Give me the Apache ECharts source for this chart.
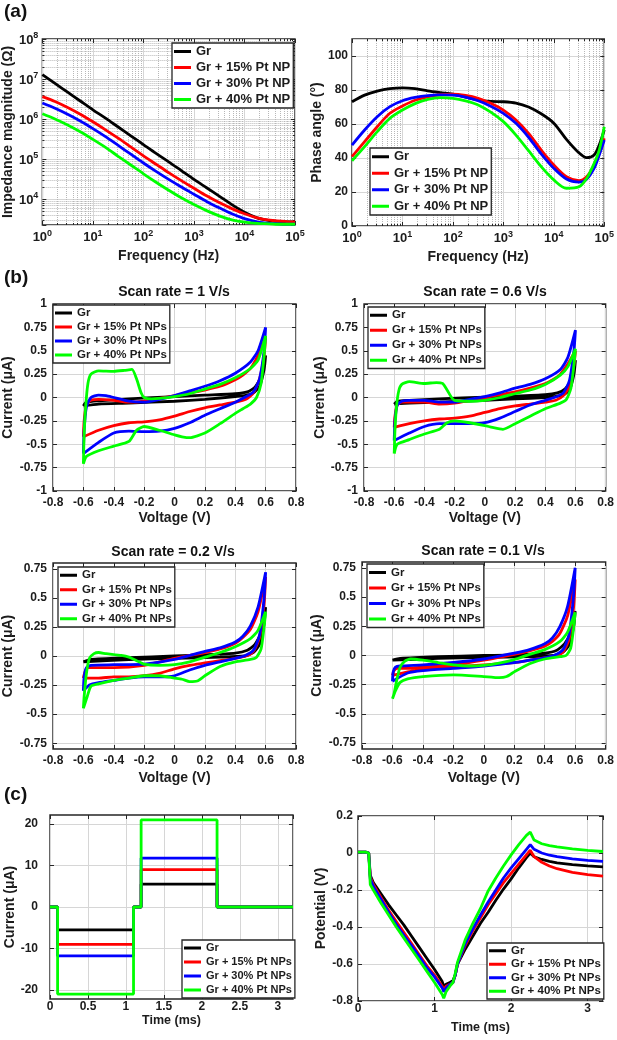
<!DOCTYPE html>
<html><head><meta charset="utf-8">
<script src="https://cdn.jsdelivr.net/npm/echarts@6/dist/echarts.min.js"></script>
<style>html,body{margin:0;padding:0;background:#fff}#c{width:617px;height:1040px}</style>
</head><body><div id="c"></div><script>
// ---------------- DATA ----------------
const NAMES_A = ['Gr', 'Gr + 15% Pt NP', 'Gr + 30% Pt NP', 'Gr + 40% Pt NP'];
const NAMES_B = ['Gr', 'Gr + 15% Pt NPs', 'Gr + 30% Pt NPs', 'Gr + 40% Pt NPs'];
const COLORS = ['#000000', '#ff0000', '#0000ff', '#00ff00'];

// (a) impedance spectra
const FREQ = [1, 1.778, 3.162, 5.623, 10, 17.78, 31.62, 56.23, 100, 177.8, 316.2, 562.3, 1000, 1778, 3162, 5623, 10000, 17783, 31623, 44668, 63096, 79433, 100000];
const Z_GR = [1.29e7, 7.76e6, 4.68e6, 2.82e6, 1.70e6, 1.05e6, 6.31e5, 3.80e5, 2.29e5, 1.38e5, 8.51e4, 5.13e4, 3.09e4, 1.91e4, 1.18e4, 7240, 4680, 3390, 2880, 2750, 2690, 2690, 2690];
const Z_15 = [3.63e6, 2.75e6, 1.95e6, 1.32e6, 8.51e5, 5.37e5, 3.31e5, 2.00e5, 1.20e5, 7.41e4, 4.57e4, 2.88e4, 1.86e4, 1.20e4, 8130, 5750, 4270, 3390, 2950, 2820, 2750, 2690, 2690];
const Z_30 = [2.51e6, 1.86e6, 1.32e6, 8.91e5, 5.75e5, 3.63e5, 2.19e5, 1.32e5, 7.94e4, 4.90e4, 3.09e4, 2.00e4, 1.32e4, 8710, 6030, 4270, 3240, 2690, 2450, 2400, 2340, 2340, 2340];
const Z_40 = [1.35e6, 1.00e6, 7.08e5, 4.79e5, 3.09e5, 1.95e5, 1.17e5, 7.08e4, 4.27e4, 2.63e4, 1.66e4, 1.07e4, 7240, 5130, 3800, 3020, 2630, 2450, 2400, 2340, 2340, 2340, 2340];
const P_GR = [73.1, 77, 79.4, 80.8, 81.3, 80.8, 79.5, 78.5, 77.6, 75.8, 74.1, 73.3, 73.1, 72.3, 70, 66, 60.5, 51, 43, 40.2, 41.8, 47.6, 56.5];
const P_15 = [40.8, 49.6, 58.4, 66.3, 70.6, 74, 76, 77.2, 77.6, 76.8, 75.1, 72.2, 68.2, 62.4, 54.5, 44.7, 35.9, 29, 26.7, 29, 35.5, 42.5, 51.6];
const P_30 = [47.6, 56.5, 64.3, 70.2, 73.7, 75.6, 76.7, 77.1, 77, 75.8, 73.7, 70.5, 66.3, 60.4, 52.2, 42.4, 33.9, 27.6, 25.8, 27.5, 34, 41.8, 50.6];
const P_40 = [38.4, 46.7, 55.5, 63.3, 68.2, 72, 74.5, 75.5, 75.1, 73.6, 71.2, 67, 61.4, 53.5, 44.3, 34.9, 27.1, 22.2, 23.1, 28, 36.9, 44.7, 58.4];

// (b) cyclic voltammograms [V, uA]
const CV_1_GR = [[-0.6,-0.09],[-0.58,-0.05],[-0.5,-0.035],[-0.3,-0.015],[0,0.01],[0.2,0.025],[0.4,0.04],[0.48,0.06],[0.53,0.11],[0.57,0.22],[0.6,0.45],[0.59,0.3],[0.56,0.12],[0.52,0.05],[0.46,0.02],[0.4,0.01],[0.2,-0.02],[0,-0.04],[-0.3,-0.06],[-0.5,-0.07],[-0.6,-0.09]];
const CV_1_15 = [[-0.6,-0.42],[-0.595,-0.25],[-0.58,-0.08],[-0.55,-0.03],[-0.5,-0.02],[-0.4,-0.03],[-0.3,-0.05],[-0.2,-0.04],[-0.1,-0.01],[0,0.02],[0.1,0.05],[0.2,0.08],[0.3,0.12],[0.4,0.19],[0.45,0.24],[0.5,0.31],[0.55,0.45],[0.6,0.65],[0.59,0.45],[0.56,0.2],[0.52,0.05],[0.47,-0.02],[0.4,-0.05],[0.3,-0.08],[0.2,-0.11],[0.1,-0.15],[0,-0.2],[-0.1,-0.24],[-0.2,-0.26],[-0.3,-0.27],[-0.4,-0.3],[-0.5,-0.35],[-0.6,-0.42]];
const CV_1_30 = [[-0.6,-0.6],[-0.595,-0.35],[-0.58,-0.1],[-0.55,0.0],[-0.5,0.025],[-0.45,0.02],[-0.4,0.0],[-0.3,-0.04],[-0.2,-0.05],[-0.1,-0.02],[0,0.02],[0.1,0.07],[0.2,0.12],[0.3,0.18],[0.4,0.26],[0.5,0.38],[0.55,0.5],[0.6,0.75],[0.59,0.5],[0.56,0.2],[0.52,0.06],[0.46,0.0],[0.4,-0.05],[0.3,-0.12],[0.2,-0.19],[0.1,-0.27],[0,-0.33],[-0.1,-0.36],[-0.2,-0.365],[-0.3,-0.36],[-0.4,-0.38],[-0.5,-0.48],[-0.6,-0.6]];
const CV_1_40 = [[-0.6,-0.71],[-0.595,-0.4],[-0.585,-0.1],[-0.57,0.15],[-0.55,0.25],[-0.5,0.285],[-0.4,0.28],[-0.33,0.29],[-0.28,0.3],[-0.25,0.2],[-0.22,0.05],[-0.2,0.0],[-0.15,-0.015],[-0.1,-0.01],[0,0.01],[0.1,0.04],[0.2,0.09],[0.3,0.14],[0.4,0.21],[0.5,0.31],[0.55,0.4],[0.6,0.66],[0.59,0.45],[0.57,0.15],[0.54,0.0],[0.5,-0.07],[0.45,-0.12],[0.4,-0.17],[0.3,-0.28],[0.2,-0.38],[0.1,-0.43],[0.05,-0.42],[0,-0.4],[-0.1,-0.35],[-0.2,-0.31],[-0.25,-0.35],[-0.3,-0.47],[-0.4,-0.52],[-0.5,-0.57],[-0.58,-0.63],[-0.6,-0.71]];

const CV_06_GR = [[-0.6,-0.07],[-0.58,-0.04],[-0.5,-0.03],[-0.3,-0.015],[0,0.005],[0.2,0.015],[0.4,0.03],[0.48,0.05],[0.53,0.09],[0.57,0.18],[0.6,0.4],[0.59,0.25],[0.56,0.08],[0.52,0.03],[0.46,0.01],[0.4,0.0],[0.2,-0.015],[0,-0.03],[-0.3,-0.05],[-0.5,-0.06],[-0.6,-0.07]];
const CV_06_15 = [[-0.6,-0.32],[-0.595,-0.2],[-0.58,-0.08],[-0.55,-0.05],[-0.5,-0.05],[-0.4,-0.05],[-0.3,-0.07],[-0.2,-0.06],[-0.1,-0.03],[0,0.0],[0.1,0.03],[0.2,0.06],[0.3,0.1],[0.4,0.15],[0.45,0.19],[0.5,0.25],[0.55,0.36],[0.6,0.5],[0.59,0.35],[0.56,0.12],[0.52,0.02],[0.47,-0.03],[0.4,-0.05],[0.3,-0.07],[0.2,-0.09],[0.1,-0.12],[0,-0.16],[-0.1,-0.2],[-0.2,-0.22],[-0.3,-0.23],[-0.4,-0.25],[-0.5,-0.28],[-0.6,-0.32]];
const CV_06_30 = [[-0.6,-0.46],[-0.595,-0.25],[-0.58,-0.08],[-0.55,-0.04],[-0.5,-0.03],[-0.4,-0.03],[-0.3,-0.05],[-0.2,-0.05],[-0.1,-0.02],[0,0.01],[0.1,0.05],[0.2,0.1],[0.3,0.14],[0.4,0.2],[0.5,0.3],[0.55,0.43],[0.6,0.72],[0.59,0.5],[0.56,0.18],[0.52,0.05],[0.46,0.0],[0.4,-0.03],[0.3,-0.08],[0.2,-0.15],[0.1,-0.22],[0,-0.27],[-0.1,-0.28],[-0.2,-0.28],[-0.3,-0.28],[-0.4,-0.31],[-0.5,-0.38],[-0.6,-0.46]];
const CV_06_40 = [[-0.6,-0.6],[-0.595,-0.35],[-0.585,-0.1],[-0.57,0.07],[-0.55,0.14],[-0.5,0.17],[-0.4,0.15],[-0.32,0.16],[-0.28,0.15],[-0.25,0.08],[-0.22,0.0],[-0.2,-0.03],[-0.1,-0.04],[0,-0.03],[0.1,0.0],[0.2,0.04],[0.3,0.08],[0.4,0.14],[0.5,0.24],[0.55,0.33],[0.6,0.52],[0.59,0.35],[0.57,0.1],[0.54,-0.02],[0.5,-0.06],[0.4,-0.12],[0.3,-0.2],[0.2,-0.28],[0.12,-0.34],[0.05,-0.32],[0,-0.3],[-0.1,-0.27],[-0.2,-0.25],[-0.25,-0.27],[-0.3,-0.34],[-0.4,-0.39],[-0.5,-0.45],[-0.58,-0.5],[-0.6,-0.6]];

const CV_02_GR = [[-0.6,-0.05],[-0.55,-0.03],[-0.3,-0.015],[0,0.0],[0.2,0.01],[0.4,0.025],[0.48,0.05],[0.53,0.1],[0.57,0.2],[0.6,0.42],[0.59,0.28],[0.56,0.1],[0.52,0.03],[0.46,0.0],[0.3,-0.01],[0,-0.02],[-0.3,-0.03],[-0.6,-0.05]];
const CV_02_15 = [[-0.6,-0.19],[-0.59,-0.14],[-0.57,-0.1],[-0.5,-0.1],[-0.4,-0.1],[-0.2,-0.08],[0,-0.02],[0.2,0.03],[0.3,0.06],[0.4,0.11],[0.45,0.16],[0.5,0.23],[0.55,0.38],[0.6,0.68],[0.59,0.45],[0.56,0.16],[0.52,0.04],[0.47,0.0],[0.4,-0.02],[0.3,-0.04],[0.2,-0.06],[0.1,-0.08],[0,-0.11],[-0.1,-0.15],[-0.2,-0.17],[-0.3,-0.18],[-0.4,-0.18],[-0.5,-0.19],[-0.6,-0.19]];
const CV_02_30 = [[-0.6,-0.3],[-0.595,-0.18],[-0.58,-0.1],[-0.55,-0.08],[-0.4,-0.075],[-0.2,-0.07],[0,-0.03],[0.2,0.04],[0.3,0.07],[0.4,0.12],[0.45,0.17],[0.5,0.26],[0.55,0.42],[0.6,0.72],[0.59,0.5],[0.56,0.18],[0.52,0.05],[0.46,0.0],[0.4,-0.02],[0.3,-0.05],[0.2,-0.08],[0.1,-0.12],[0,-0.17],[-0.1,-0.18],[-0.2,-0.18],[-0.3,-0.19],[-0.4,-0.21],[-0.5,-0.23],[-0.56,-0.25],[-0.6,-0.3]];
const CV_02_40 = [[-0.6,-0.45],[-0.595,-0.35],[-0.58,-0.15],[-0.56,-0.02],[-0.53,0.02],[-0.5,0.03],[-0.45,0.02],[-0.35,0.005],[-0.3,-0.01],[-0.25,-0.04],[-0.2,-0.07],[-0.1,-0.08],[0,-0.075],[0.1,-0.05],[0.2,-0.01],[0.3,0.03],[0.4,0.08],[0.5,0.15],[0.55,0.22],[0.6,0.38],[0.59,0.25],[0.57,0.06],[0.54,-0.01],[0.5,-0.03],[0.4,-0.05],[0.3,-0.09],[0.2,-0.17],[0.15,-0.215],[0.1,-0.22],[0.05,-0.2],[0,-0.19],[-0.1,-0.17],[-0.2,-0.17],[-0.3,-0.19],[-0.4,-0.21],[-0.5,-0.24],[-0.55,-0.26],[-0.575,-0.35],[-0.6,-0.45]];

const CV_01_GR = [[-0.6,-0.04],[-0.55,-0.025],[-0.3,-0.01],[0,0.0],[0.2,0.005],[0.4,0.02],[0.48,0.045],[0.53,0.1],[0.57,0.2],[0.6,0.38],[0.59,0.25],[0.56,0.09],[0.52,0.03],[0.46,0.0],[0.3,-0.01],[0,-0.015],[-0.3,-0.025],[-0.6,-0.04]];
const CV_01_15 = [[-0.6,-0.17],[-0.59,-0.13],[-0.57,-0.11],[-0.5,-0.11],[-0.4,-0.1],[-0.2,-0.08],[0,-0.04],[0.2,0.01],[0.3,0.04],[0.4,0.08],[0.45,0.12],[0.5,0.19],[0.55,0.34],[0.6,0.65],[0.59,0.42],[0.56,0.14],[0.52,0.03],[0.46,-0.01],[0.4,-0.02],[0.3,-0.04],[0.2,-0.06],[0,-0.08],[-0.2,-0.1],[-0.4,-0.12],[-0.5,-0.14],[-0.6,-0.17]];
const CV_01_30 = [[-0.6,-0.22],[-0.595,-0.14],[-0.58,-0.1],[-0.55,-0.09],[-0.4,-0.08],[-0.2,-0.06],[0,-0.03],[0.2,0.02],[0.3,0.05],[0.4,0.1],[0.45,0.15],[0.5,0.25],[0.55,0.42],[0.6,0.75],[0.59,0.52],[0.56,0.18],[0.52,0.05],[0.46,0.0],[0.4,-0.02],[0.3,-0.04],[0.2,-0.06],[0,-0.09],[-0.2,-0.11],[-0.4,-0.13],[-0.5,-0.15],[-0.6,-0.22]];
const CV_01_40 = [[-0.6,-0.37],[-0.59,-0.33],[-0.57,-0.2],[-0.55,-0.1],[-0.52,-0.05],[-0.48,-0.03],[-0.4,-0.04],[-0.3,-0.06],[-0.2,-0.08],[-0.1,-0.09],[0,-0.085],[0.1,-0.065],[0.2,-0.035],[0.3,0.01],[0.4,0.05],[0.5,0.12],[0.55,0.2],[0.6,0.37],[0.59,0.24],[0.57,0.06],[0.54,0.0],[0.5,-0.01],[0.4,-0.03],[0.3,-0.07],[0.2,-0.14],[0.15,-0.18],[0.1,-0.19],[0.05,-0.185],[0,-0.18],[-0.2,-0.165],[-0.4,-0.18],[-0.5,-0.2],[-0.55,-0.23],[-0.58,-0.3],[-0.6,-0.37]];

// (c) current steps and potential response
const T_STEP = [0, 0.1, 0.1, 1.1, 1.1, 1.2, 1.2, 2.2, 2.2, 3.2];
const I_GR = [0, 0, -5.5, -5.5, 0, 0, 5.5, 5.5, 0, 0];
const I_15 = [0, 0, -9, -9, 0, 0, 9, 9, 0, 0];
const I_30 = [0, 0, -11.8, -11.8, 0, 0, 11.8, 11.8, 0, 0];
const I_40 = [0, 0, -21, -21, 0, 0, 21, 21, 0, 0];
const T_POT = [0, 0.1, 0.14, 0.16, 0.2, 0.3, 0.4, 0.5, 0.6, 0.7, 0.8, 0.9, 1.0, 1.1, 1.12, 1.15, 1.2, 1.24, 1.27, 1.3, 1.4, 1.5, 1.6, 1.7, 1.8, 1.9, 2.0, 2.1, 2.2, 2.25, 2.3, 2.4, 2.5, 2.6, 2.8, 3.0, 3.2];
const V_GR = [0.005, 0.005, 0, -0.12, -0.16, -0.22, -0.28, -0.335, -0.39, -0.45, -0.51, -0.57, -0.63, -0.695, -0.72, -0.71, -0.7, -0.69, -0.66, -0.6, -0.52, -0.45, -0.38, -0.32, -0.255, -0.195, -0.14, -0.08, -0.025, 0.0, -0.02, -0.035, -0.045, -0.053, -0.063, -0.07, -0.075];
const V_15 = [0.005, 0.005, 0, -0.13, -0.17, -0.24, -0.31, -0.37, -0.43, -0.49, -0.55, -0.61, -0.66, -0.72, -0.74, -0.72, -0.71, -0.7, -0.66, -0.6, -0.5, -0.42, -0.35, -0.28, -0.22, -0.16, -0.11, -0.06, -0.01, 0.015, -0.02, -0.05, -0.07, -0.085, -0.105, -0.117, -0.125];
const V_30 = [0.005, 0.005, 0, -0.14, -0.18, -0.25, -0.32, -0.385, -0.445, -0.5, -0.56, -0.62, -0.67, -0.73, -0.75, -0.73, -0.71, -0.7, -0.66, -0.6, -0.49, -0.41, -0.335, -0.265, -0.2, -0.135, -0.08, -0.03, 0.02, 0.045, 0.02, 0.0, -0.012, -0.02, -0.032, -0.04, -0.045];
const V_40 = [0.005, 0.005, 0, -0.17, -0.2, -0.27, -0.335, -0.4, -0.46, -0.52, -0.58, -0.64, -0.7, -0.765, -0.785, -0.75, -0.72, -0.7, -0.65, -0.59, -0.47, -0.38, -0.3, -0.205, -0.135, -0.07, -0.01, 0.045, 0.095, 0.113, 0.07, 0.05, 0.04, 0.033, 0.022, 0.014, 0.008];

// tick labels
const CV_TICKS_SMALL = [-0.75, -0.5, -0.25, 0, 0.25, 0.5, 0.75];
const STEP_TICKS = [-20, -10, 0, 10, 20];

// ---------------- LAYOUT / STYLE ----------------
const F = "'Liberation Sans', Arial, Helvetica, sans-serif";
const TXT = '#1c1c1c';
const GRIDS = [
  {left: 42, top: 39, width: 253, height: 186},
  {left: 352, top: 39, width: 254, height: 187},
  {left: 53, top: 304, width: 243, height: 187},
  {left: 364, top: 304, width: 243, height: 187},
  {left: 53, top: 563, width: 243, height: 186},
  {left: 362, top: 562, width: 245, height: 187},
  {left: 50, top: 815, width: 243, height: 184},
  {left: 358, top: 816, width: 245, height: 185}
].map(g => Object.assign(g, {show: true, borderColor: '#262626', borderWidth: 1.4, backgroundColor: 'transparent', containLabel: false}));

function clean(o) { Object.keys(o).forEach(k => { if (o[k] === undefined) delete o[k]; else if (o[k] && typeof o[k] === 'object' && !Array.isArray(o[k])) clean(o[k]); }); return o; }

const supRich = (bs, ss) => ({
  b: {fontFamily: F, fontWeight: 'bold', fontSize: bs, color: TXT, verticalAlign: 'bottom'},
  s: {fontFamily: F, fontWeight: 'bold', fontSize: ss, color: TXT, verticalAlign: 'bottom', padding: [0, 0, 6, 0]}
});
const supFmt = v => '{b|10}{s|' + Math.round(Math.log10(v)) + '}';

function ax(o) {
  return clean({
    type: o.type || 'value', gridIndex: o.g, min: o.min, max: o.max, interval: o.interval,
    name: o.name, nameLocation: 'middle', nameGap: o.nameGap,
    nameTextStyle: {fontFamily: F, fontWeight: 'bold', fontSize: o.nameSize || 14, color: TXT},
    axisLine: {show: false, onZero: false},
    axisTick: {show: true, inside: true, length: 4, lineStyle: {color: '#262626', width: 1}, customValues: o.custom},
    axisLabel: {fontFamily: F, fontWeight: 'bold', fontSize: o.labelSize || 12, color: TXT, margin: o.margin == null ? 6 : o.margin,
      customValues: o.custom, showMaxLabel: o.showMax, showMinLabel: o.showMin, formatter: o.fmt, rich: o.rich},
    splitLine: {show: true, lineStyle: {color: '#d6d6d6', width: 1}},
    minorTick: o.minor ? {show: true, splitNumber: 9, length: 2, lineStyle: {color: '#262626', width: 1}} : {show: false},
    minorSplitLine: o.minor ? {show: true, lineStyle: {color: '#b8b8b8', type: 'dotted', width: 1}} : {show: false}
  });
}
// mirrored (box) axis: ticks only, on the top / right edge
function mirror(o, pos) {
  return clean({
    type: o.type || 'value', gridIndex: o.g, position: pos, min: o.min, max: o.max, interval: o.interval,
    axisLine: {show: false, onZero: false}, axisLabel: {show: false}, splitLine: {show: false},
    axisTick: {show: true, inside: true, length: 4, lineStyle: {color: '#262626', width: 1}, customValues: o.custom},
    minorTick: o.minor ? {show: true, splitNumber: 9, length: 2, lineStyle: {color: '#262626', width: 1}} : {show: false},
    minorSplitLine: {show: false}
  });
}

function lg(names, left, top, fs, lh, gap) {
  return {show: true, orient: 'vertical', left: left, top: top, data: names, icon: 'rect', itemWidth: 17, itemHeight: 3,
    itemGap: gap, padding: [1, 3, 1, 2], borderColor: '#262626', borderWidth: 1.3, backgroundColor: '#ffffff',
    selectedMode: false, z: 10,
    textStyle: {fontFamily: F, fontWeight: 'bold', fontSize: fs, lineHeight: lh, color: TXT}};
}

function ln(name, ci, data, idx, smooth) {
  return {type: 'line', name: name, xAxisIndex: idx, yAxisIndex: idx, data: data, showSymbol: false, symbol: 'none',
    smooth: smooth || false, color: COLORS[ci], lineStyle: {color: COLORS[ci], width: 2.8}, animation: false, z: 3};
}
const zip = (xs, ys) => xs.map((x, i) => [x, ys[i]]);

const X_DEF = [
  {g: 0, type: 'log', min: 1, max: 100000, name: 'Frequency (Hz)', nameGap: 24, minor: true, fmt: supFmt, rich: supRich(13, 9), margin: 4},
  {g: 1, type: 'log', min: 1, max: 100000, name: 'Frequency (Hz)', nameGap: 24, minor: true, fmt: supFmt, rich: supRich(13, 9), margin: 4},
  {g: 2, min: -0.8, max: 0.8, interval: 0.2, name: 'Voltage (V)', nameGap: 20},
  {g: 3, min: -0.8, max: 0.8, interval: 0.2, name: 'Voltage (V)', nameGap: 20},
  {g: 4, min: -0.8, max: 0.8, interval: 0.2, name: 'Voltage (V)', nameGap: 22},
  {g: 5, min: -0.8, max: 0.8, interval: 0.2, name: 'Voltage (V)', nameGap: 22},
  {g: 6, min: 0, max: 3.2, interval: 0.5, name: 'Time (ms)', nameGap: 11, nameSize: 12.5, margin: 2, showMax: false},
  {g: 7, min: 0, max: 3.2, interval: 1, name: 'Time (ms)', nameGap: 20, nameSize: 12.5, margin: 2, showMax: false}
];
const Y_DEF = [
  {g: 0, type: 'log', min: 2240, max: 1e8, name: 'Impedance magnitude (Ω)', nameGap: 24, minor: true, fmt: supFmt, rich: supRich(13, 9), margin: 4, showMin: false},
  {g: 1, min: 0, max: 110, interval: 20, name: 'Phase angle (°)', nameGap: 27, margin: 4, showMax: false},
  {g: 2, min: -1, max: 1, interval: 0.25, name: 'Current (μA)', nameGap: 38},
  {g: 3, min: -1, max: 1, interval: 0.25, name: 'Current (μA)', nameGap: 37},
  {g: 4, min: -0.8, max: 0.8, custom: CV_TICKS_SMALL, name: 'Current (μA)', nameGap: 38},
  {g: 5, min: -0.8, max: 0.8, custom: CV_TICKS_SMALL, name: 'Current (μA)', nameGap: 38},
  {g: 6, min: -22.2, max: 22.2, custom: STEP_TICKS, name: 'Current (μA)', nameGap: 25, margin: 12},
  {g: 7, min: -0.8, max: 0.2, interval: 0.2, name: 'Potential (V)', nameGap: 29, margin: 5}
];
const xAxes = X_DEF.map(ax).concat(X_DEF.map(d => mirror(d, 'top')));
const yAxes = Y_DEF.map(ax).concat(Y_DEF.map(d => mirror(d, 'right')));

const series = [];
[Z_GR, Z_15, Z_30, Z_40].forEach((z, i) => series.push(ln(NAMES_A[i], i, zip(FREQ, z), 0, 0.3)));
[P_GR, P_15, P_30, P_40].forEach((p, i) => series.push(ln(NAMES_A[i], i, zip(FREQ, p), 1, 0.3)));
[[CV_1_GR, CV_1_15, CV_1_30, CV_1_40], [CV_06_GR, CV_06_15, CV_06_30, CV_06_40],
 [CV_02_GR, CV_02_15, CV_02_30, CV_02_40], [CV_01_GR, CV_01_15, CV_01_30, CV_01_40]].forEach((set, k) => {
  set.forEach((d, i) => series.push(ln(NAMES_B[i], i, d, 2 + k, 0.2)));
});
[I_GR, I_15, I_30, I_40].forEach((c, i) => series.push(ln(NAMES_B[i], i, zip(T_STEP, c), 6, false)));
[V_GR, V_15, V_30, V_40].forEach((v, i) => series.push(ln(NAMES_B[i], i, zip(T_POT, v), 7, false)));

const tStyle = (fs) => ({fontFamily: F, fontWeight: 'bold', fontSize: fs, color: '#111'});
const option = {
  backgroundColor: '#ffffff',
  animation: false,
  title: [
    {text: '(a)', left: 4, top: 2, padding: 0, textStyle: tStyle(19)},
    {text: '(b)', left: 4, top: 268, padding: 0, textStyle: tStyle(19)},
    {text: '(c)', left: 4, top: 785, padding: 0, textStyle: tStyle(19)},
    {text: 'Scan rate = 1 V/s', left: 174, top: 285, textAlign: 'center', padding: 0, textStyle: tStyle(14)},
    {text: 'Scan rate = 0.6 V/s', left: 485, top: 285, textAlign: 'center', padding: 0, textStyle: tStyle(14)},
    {text: 'Scan rate = 0.2 V/s', left: 173, top: 545, textAlign: 'center', padding: 0, textStyle: tStyle(14)},
    {text: 'Scan rate = 0.1 V/s', left: 483, top: 544, textAlign: 'center', padding: 0, textStyle: tStyle(14)}
  ],
  grid: GRIDS,
  xAxis: xAxes,
  yAxis: yAxes,
  legend: [
    lg(NAMES_A, 172, 43, 13, 15, 1),
    lg(NAMES_A, 370, 148, 13, 15.5, 1),
    lg(NAMES_B, 53, 305, 11.5, 14, 0),
    lg(NAMES_B, 368, 307, 11.5, 14.5, 0.5),
    lg(NAMES_B, 58, 567, 11.5, 14.5, 0),
    lg(NAMES_B, 367, 564, 11.5, 15, 0.5),
    lg(NAMES_B, 182, 940, 11, 14, 0),
    lg(NAMES_B, 487, 943, 11.5, 13.5, 0)
  ],
  series: series
};
const chart = echarts.init(document.getElementById('c'), null, {renderer: 'canvas', width: 617, height: 1040});
chart.setOption(option);
</script></body></html>
